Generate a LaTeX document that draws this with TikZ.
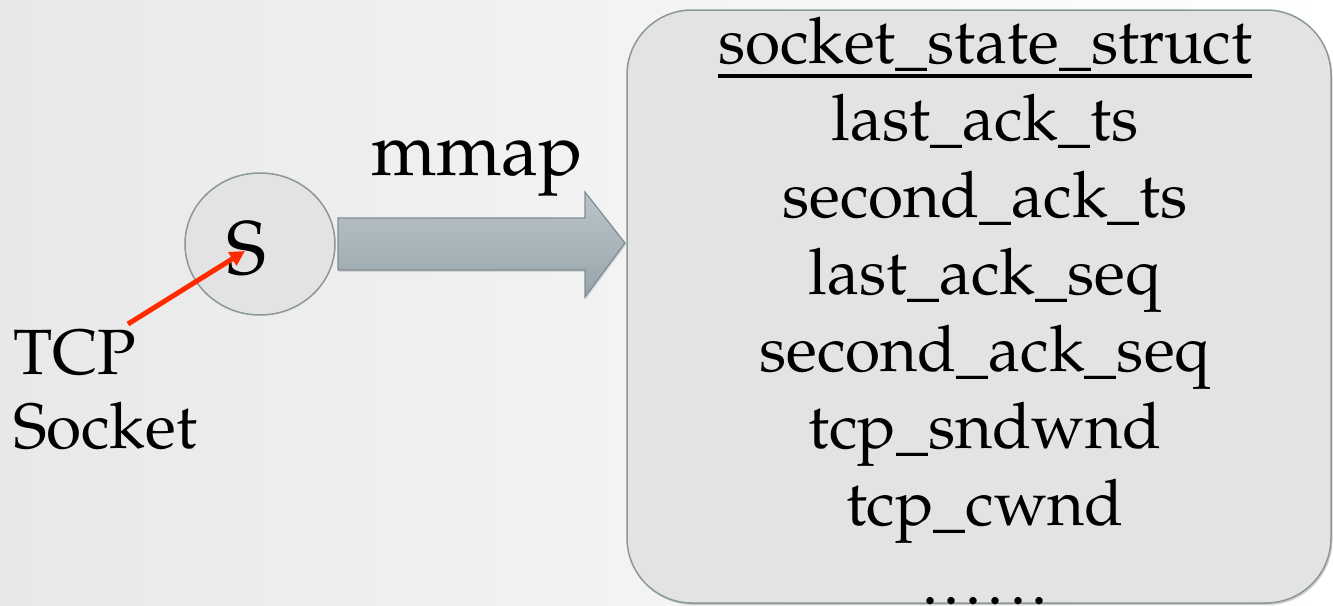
\documentclass[tikz,border=0pt]{standalone}
\usepackage[T1]{fontenc}
\usepackage{mathpazo}
\usetikzlibrary{arrows.meta,shadows,shapes.geometric}
\definecolor{boxfill}{HTML}{E3E3E3}
\definecolor{boxline}{HTML}{8A9898}
\definecolor{arrtop}{HTML}{BAC5CB}
\definecolor{arrbot}{HTML}{98A4AB}
\definecolor{arrline}{HTML}{7F8D93}
\definecolor{redarr}{HTML}{FF2A00}
\begin{document}
\begin{tikzpicture}[x=1pt,y=-1pt,
  every node/.style={inner sep=0pt,outer sep=0pt},
  boxtxt/.style={font=\fontsize{64}{77}\selectfont,anchor=base},
  lbl/.style={font=\fontsize{64}{77}\selectfont,anchor=base west},
  struct/.style={draw=boxline,line width=1.5pt,fill=boxfill,rounded corners=65pt,
    drop shadow={opacity=0.35,shadow xshift=1.5pt,shadow yshift=-2pt}},
  bigarrow/.style={draw=arrline,line width=1.2pt,top color=arrtop,bottom color=arrbot,
    drop shadow={opacity=0.25,shadow xshift=1pt,shadow yshift=-2pt}}]
\useasboundingbox (0,0) rectangle (1333,605);
\shade[left color=black!9,right color=white] (0,0) rectangle (1333,605);

% socket circle
\node[ellipse,draw=boxline,line width=1.5pt,fill=boxfill,minimum width=150pt,minimum height=142pt] (sock) at (260,244) {};
\node[font=\fontsize{76}{80}\selectfont,anchor=base] (s) at (246,274) {S};

% labels
\node[lbl] (tcp) at (13,374) {TCP};
\node[lbl] (socket) at (13,448) {Socket};
\coordinate (tcpend) at (128,324);
\coordinate (starget) at (245,251);
\draw[redarr,line width=5pt,-{Triangle[length=15pt,width=15pt]}] (tcpend) -- (starget);

% big arrow
\path[bigarrow] (338,218) -- (585,218) -- (585,192) -- (625,243) -- (585,297) -- (585,270) -- (338,270) -- cycle;
\node[font=\fontsize{74}{80}\selectfont,anchor=base west] (mmap) at (371,175) {mmap};

% struct box
\path[struct] (627,10) rectangle (1331,603);
\node[boxtxt] (t0) at (985,63) {socket\_state\_struct};
\draw[line width=4pt] ([yshift=-13pt]t0.base west) -- ([yshift=-13pt]t0.base east);
\node[boxtxt] (t1) at (985,140) {last\_ack\_ts};
\node[boxtxt] (t2) at (985,217) {second\_ack\_ts};
\node[boxtxt] (t3) at (985,294) {last\_ack\_seq};
\node[boxtxt] (t4) at (985,371) {second\_ack\_seq};
\node[boxtxt] (t5) at (985,448) {tcp\_sndwnd};
\node[boxtxt] (t6) at (985,525) {tcp\_cwnd};
\node[boxtxt] (t7) at (985,604) {.\kern6pt.\kern6pt.\kern6pt.\kern6pt.\kern6pt.};
\end{tikzpicture}
\end{document}
